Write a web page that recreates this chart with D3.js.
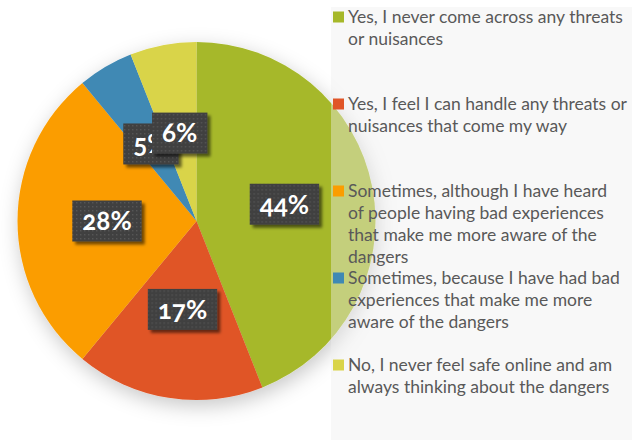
<!DOCTYPE html>
<html>
<head>
<meta charset="utf-8">
<script src="https://cdn.jsdelivr.net/npm/d3@7"></script>
<style>
  html, body { margin: 0; padding: 0; background: #ffffff; }
  svg { display: block; }
  text { font-family: Lato, "Open Sans", sans-serif; }
</style>
</head>
<body>
<svg id="chart" width="641" height="441"></svg>
<script>
// ---- data ----
const categories = [
  "Yes, I never come across any threats\nor nuisances",
  "Yes, I feel I can handle any threats or\nnuisances that come my way",
  "Sometimes, although I have heard\nof people having bad experiences\nthat make me more aware of the\ndangers",
  "Sometimes, because I have had bad\nexperiences that make me more\naware of the dangers",
  "No, I never feel safe online and am\nalways thinking about the dangers"
];
const values = [44, 17, 28, 5, 6];
const colors = ["#a6b829", "#e05527", "#fb9d00", "#3f89b4", "#d9d448"];

// ---- layout ----
const W = 641, H = 441;
const cx = 196.5, cy = 221, R = 179;
const svg = d3.select("#chart");
const defs = svg.append("defs");

const pieShadow = defs.append("filter").attr("id", "pieShadow")
  .attr("x", "-30%").attr("y", "-30%").attr("width", "160%").attr("height", "160%");
pieShadow.append("feDropShadow").attr("dx", 2).attr("dy", 6).attr("stdDeviation", 10)
  .attr("flood-color", "#000").attr("flood-opacity", 0.22);

const boxShadow = defs.append("filter").attr("id", "boxShadow")
  .attr("x", "-30%").attr("y", "-30%").attr("width", "160%").attr("height", "160%");
boxShadow.append("feDropShadow").attr("dx", 3).attr("dy", 3).attr("stdDeviation", 1.8)
  .attr("flood-color", "#000").attr("flood-opacity", 0.55);

const pat = defs.append("pattern").attr("id", "dots")
  .attr("patternUnits", "userSpaceOnUse").attr("width", 4).attr("height", 4);
pat.append("rect").attr("width", 4).attr("height", 4).attr("fill", "#404040");
pat.append("rect").attr("x", 1).attr("y", 1).attr("width", 1.4).attr("height", 1.4).attr("fill", "#565656");

const color = d3.scaleOrdinal().domain(d3.range(values.length)).range(colors);
const pie = d3.pie().sort(null).value(d => d)(values);
const arc = d3.arc().innerRadius(0).outerRadius(R);

const gPie = svg.append("g").attr("transform", `translate(${cx},${cy})`);
const gSlices = gPie.append("g").attr("filter", "url(#pieShadow)");
gSlices.selectAll("path").data(pie).join("path")
  .attr("d", arc)
  .attr("fill", (d, i) => color(i));

// legend background (semi-transparent, over the pie)
const legX = 331, legY = 7, legW = 301, legH = 433;
svg.append("rect").attr("x", legX).attr("y", legY).attr("width", legW).attr("height", legH)
  .attr("fill", "#eeeeee").attr("fill-opacity", 0.42);

// data labels
const gLab = svg.append("g").attr("transform", `translate(${cx},${cy})`);
const lab = gLab.selectAll("g").data(pie).join("g")
  .attr("transform", d => `translate(${arc.centroid(d)})`);
lab.each(function(d) {
  const g = d3.select(this);
  const t = g.append("text")
    .attr("text-anchor", "middle")
    .attr("dy", "0.36em")
    .attr("fill", "#ffffff")
    .attr("font-size", 26)
    .attr("font-weight", "bold")
    .style("font-variant-numeric", "oldstyle-nums")
    .text(d3.format(".0%")(d.data / 100));
  const bw = t.node().getComputedTextLength() + 20;
  const bh = 41;
  g.insert("rect", "text")
    .attr("x", -bw / 2).attr("y", -bh / 2)
    .attr("width", bw).attr("height", bh)
    .attr("fill", "url(#dots)")
    .attr("filter", "url(#boxShadow)");
});

// legend
const legendFont = 17.5;
const lineH = 22;
const itemStep = 87;
const firstBase = 23;
const gLeg = svg.append("g");
categories.forEach((c, i) => {
  const base = firstBase + i * itemStep;
  gLeg.append("rect").attr("x", 333).attr("y", base - 11.5).attr("width", 11).attr("height", 11)
    .attr("fill", color(i));
  const t = gLeg.append("text").attr("x", 348).attr("y", base)
    .attr("font-size", legendFont).attr("fill", "#595959");
  c.split("\n").forEach((ln, j) => {
    t.append("tspan").attr("x", 348).attr("y", base + j * lineH).text(ln);
  });
});
</script>
</body>
</html>
